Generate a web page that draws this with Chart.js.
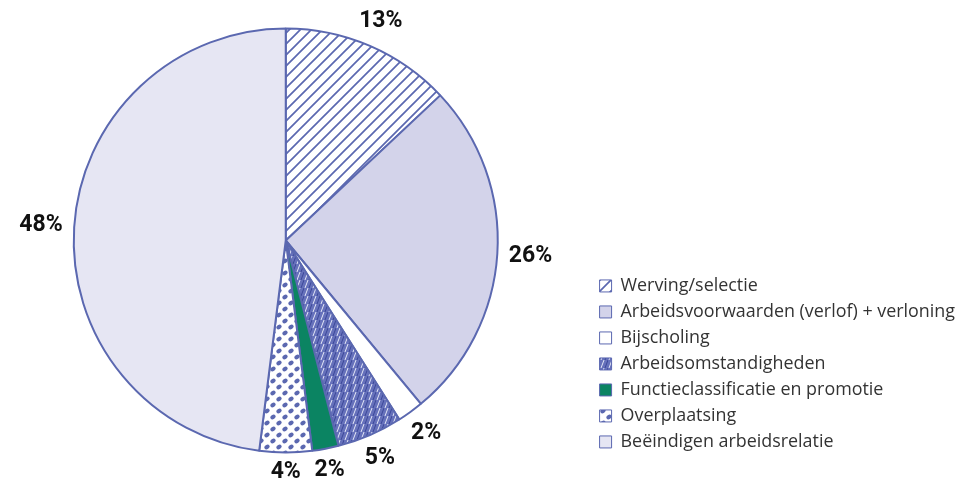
<!DOCTYPE html>
<html>
<head>
<meta charset="utf-8">
<script src="https://cdn.jsdelivr.net/npm/chart.js@4"></script>
<style>
  html, body { margin: 0; padding: 0; background: #ffffff; }
  canvas { display: block; }
</style>
</head>
<body>
<canvas id="pie" width="958" height="481"></canvas>
<script>
// Reasons, clockwise from the top of the pie
const categories = [
  'Werving/selectie',
  'Arbeidsvoorwaarden (verlof) + verloning',
  'Bijscholing',
  'Arbeidsomstandigheden',
  'Functieclassificatie en promotie',
  'Overplaatsing',
  'Beëindigen arbeidsrelatie'
];
// Share of each reason, in percent
const shares = [13, 26, 2, 5, 2, 4, 48];

const INK = '#5b68b0';

// Small repeating tiles used as slice fills
function makePattern(size, paint) {
  const tile = document.createElement('canvas');
  tile.width = tile.height = size;
  const g = tile.getContext('2d');
  paint(g, size);
  return g.createPattern(tile, 'repeat');
}

const diagonalHatch = makePattern(11, (g, s) => {
  g.fillStyle = '#ffffff';
  g.fillRect(0, 0, s, s);
  g.strokeStyle = INK;
  g.lineWidth = 1.7;
  g.beginPath();
  g.moveTo(-2, s + 2); g.lineTo(s + 2, -2);
  g.moveTo(-2, 2); g.lineTo(2, -2);
  g.moveTo(s - 2, s + 2); g.lineTo(s + 2, s - 2);
  g.stroke();
});

const denseHatch = makePattern(8, (g, s) => {
  g.fillStyle = '#6671bb';
  g.fillRect(0, 0, s, s);
  g.strokeStyle = '#e3e6f5';
  g.lineWidth = 1;
  g.beginPath();
  g.moveTo(1, s); g.lineTo(4, 0);
  g.stroke();
  g.strokeStyle = '#3c4899';
  g.beginPath();
  g.moveTo(5, s); g.lineTo(8, 0);
  g.stroke();
});

const dots = makePattern(12, (g, s) => {
  g.fillStyle = '#ffffff';
  g.fillRect(0, 0, s, s);
  g.fillStyle = INK;
  g.beginPath();
  g.ellipse(3, 3, 2.8, 2.1, -0.6, 0, Math.PI * 2);
  g.fill();
  g.beginPath();
  g.ellipse(9, 9, 2.8, 2.1, -0.6, 0, Math.PI * 2);
  g.fill();
});

const fills = [
  diagonalHatch,
  '#d3d3ea',
  '#ffffff',
  denseHatch,
  '#0b8462',
  dots,
  '#e6e6f3'
];

// Widen the plot area to the left so the pie sits closer to the canvas edge
const widenPlotArea = {
  id: 'widenPlotArea',
  afterLayout(chart) {
    const area = chart.chartArea;
    area.left -= 20;
    area.width = area.right - area.left;
  }
};

// Percentages written just outside each slice
const outsideLabels = {
  id: 'outsideLabels',
  afterDatasetsDraw(chart) {
    const ctx = chart.ctx;
    const meta = chart.getDatasetMeta(0);
    ctx.save();
    ctx.font = 'bold 23px Roboto, "Liberation Sans", sans-serif';
    ctx.fillStyle = '#111111';
    ctx.textAlign = 'center';
    ctx.textBaseline = 'middle';
    meta.data.forEach((arc, i) => {
      const p = arc.getProps(['x', 'y', 'startAngle', 'endAngle', 'outerRadius'], true);
      const mid = (p.startAngle + p.endAngle) / 2;
      const cos = Math.cos(mid), sin = Math.sin(mid);
      const text = shares[i] + '%';
      const w = ctx.measureText(text).width;
      const h = 17;
      const d = p.outerRadius + 11 + Math.abs(cos) * w / 2 + Math.abs(sin) * h / 2;
      ctx.fillText(text, p.x + cos * d, p.y + sin * d);
    });
    ctx.restore();
  }
};

new Chart(document.getElementById('pie'), {
  type: 'pie',
  data: {
    labels: categories,
    datasets: [{
      data: shares,
      backgroundColor: fills,
      borderColor: INK,
      borderWidth: 2,
      radius: 212
    }]
  },
  options: {
    responsive: false,
    animation: false,
    events: [],
    layout: { padding: { left: 0, right: -7, top: 22, bottom: 22 } },
    plugins: {
      tooltip: { enabled: false },
      legend: {
        position: 'right',
        align: 'end',
        labels: {
          boxWidth: 12,
          boxHeight: 12,
          padding: 8.1,
          color: '#333333',
          font: { family: '"Open Sans", sans-serif', size: 17.9 },
          generateLabels(chart) {
            return Chart.overrides.pie.plugins.legend.labels.generateLabels(chart)
              .map(item => Object.assign(item, { lineWidth: 1 }));
          }
        }
      }
    }
  },
  plugins: [widenPlotArea, outsideLabels]
});
</script>
</body>
</html>
